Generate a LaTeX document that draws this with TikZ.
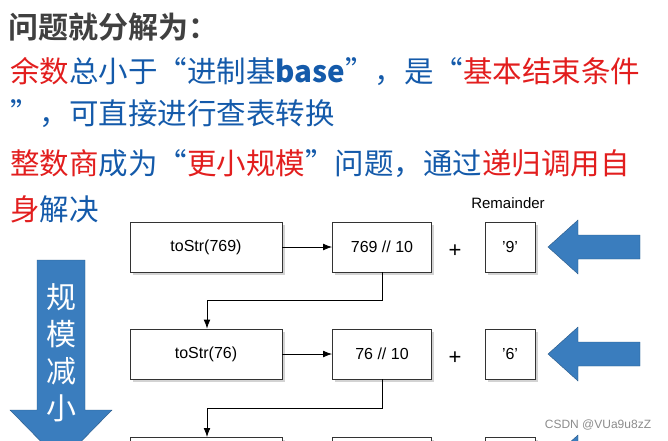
\documentclass[tikz,border=0pt]{standalone}
\usepackage{fontspec}
\setmainfont{Liberation Sans}
\newfontfamily\cjk{Noto Sans CJK SC}
\newfontfamily\cjkbold{Noto Sans CJK SC Bold}
\usetikzlibrary{positioning,shadows,arrows.meta}
\definecolor{hred}{RGB}{226,30,30}
\definecolor{hblue}{RGB}{20,90,170}
\definecolor{abblue}{RGB}{58,125,190}
\tikzset{box/.style={draw=black!80,fill=white,thick,minimum height=50pt,font=\fontsize{16}{18}\selectfont,drop shadow={opacity=.35}},
  line/.style={anchor=west,inner sep=0pt,font=\cjk\fontsize{29.5}{32}\selectfont,text=hblue},
  bluearrow/.style={fill=abblue,draw=abblue!70!black}}
\newcommand{\R}[1]{\textcolor{hred}{#1}}
\begin{document}
\begin{tikzpicture}[x=1pt,y=-1pt]
  \useasboundingbox (0,0) rectangle (668,440);
  \clip (0,0) rectangle (668,440);
  % the text lines
  \node[anchor=west,inner sep=0pt,font=\cjkbold\fontsize{30}{34}\selectfont,text=black!75](title) at (8,27){问题就分解为：};
  \node[line](l1) at (10,72){\R{余数}总小于“进制基\textbf{base}”，是“\R{基本结束条件}};
  \node[line](l2) at (10,114){”，可直接进行查表转换};
  \node[line](l3) at (10,164){\R{整数商}成为“\R{更小规模}”问题，通过\R{递归调用自}};
  \node[line](l4) at (10,209){\R{身}解决};
  \node[font=\fontsize{15}{17}\selectfont](rem) at (508,203){Remainder};
  % the boxes
  \node[box,minimum width=152pt](s1) at (206,247){toStr(769)};
  \node[box,minimum width=99pt](d1) at (382,247){769 // 10};
  \node[box,minimum width=50pt](r1) at (510,247){'9'};
  \node[box,minimum width=152pt](s2) at (206,354){toStr(76)};
  \node[box,minimum width=99pt](d2) at (382,354){76 // 10};
  \node[box,minimum width=50pt](r2) at (510,354){'6'};
  \node[box,minimum width=152pt,anchor=north](s3) at (206,437){};
  \node[box,minimum width=99pt,anchor=north](d3) at (382,437){};
  \node[box,minimum width=50pt,anchor=north](r3) at (510,437){};
  \node[font=\fontsize{22}{24}\selectfont](p1) at (455,251){+};
  \node[font=\fontsize{22}{24}\selectfont](p2) at (455,358){+};
  % the arrows
  \draw[thick,-{Latex[length=9pt]}] (s1)--(d1);
  \draw[thick,-{Latex[length=9pt]}] (s2)--(d2);
  \draw[thick,-{Latex[length=9pt]}] (d1.south)|-(207,300)--(s2.north-|207,0);
  \draw[thick,-{Latex[length=9pt]}] (d2.south)|-(207,408)--(s3.north-|207,0);
  % the blue arrows
  \foreach \y in {247,354,462}
    \draw[bluearrow] (548,\y)--++(30,-27)--++(0,15)--++(62,0)--++(0,24)--++(-62,0)--++(0,15)--cycle;
  \draw[bluearrow] (37,260)--(85,260)--(85,410)--(112,410)--(61,462)--(10,410)--(37,410)--cycle;
  \node[text=white,font=\cjk\fontsize{30}{37}\selectfont,align=center](shr) at (61,353){规\\模\\减\\小};
  \node[text=black!45,font=\fontsize{12}{14}\selectfont](wm) at (598,425){CSDN @VUa9u8zZ};
\end{tikzpicture}
\end{document}
